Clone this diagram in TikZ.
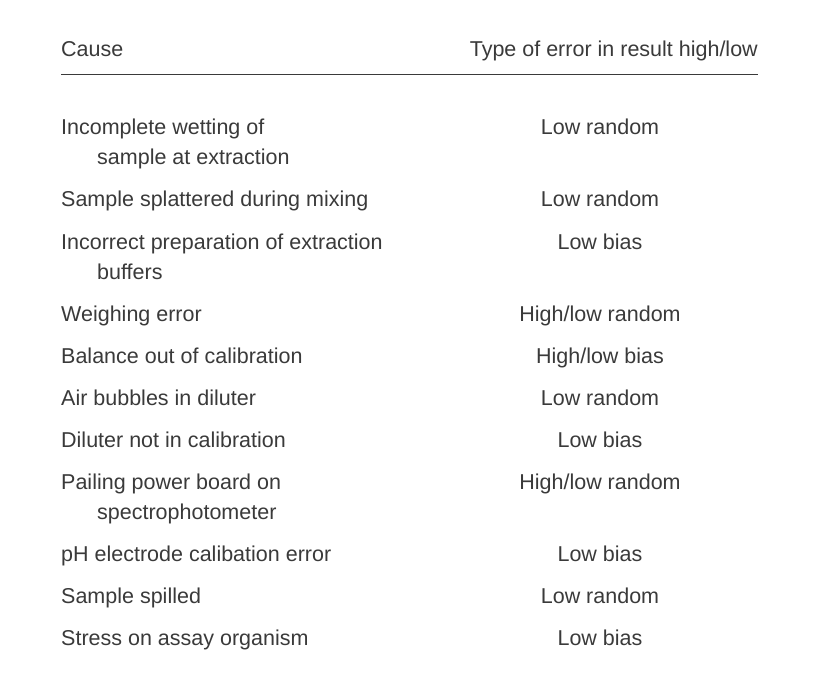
\documentclass[tikz,border=0pt]{standalone}
\usepackage{fontspec}
\setmainfont{Liberation Sans}
\usetikzlibrary{positioning}
\definecolor{ink}{HTML}{3A3A3A}
\begin{document}
\begin{tikzpicture}[x=1pt,y=-1pt]
\tikzset{C/.style={anchor=base west,inner sep=0pt,text=ink,font=\fontsize{21.5}{24}\selectfont}}
\tikzset{E/.style={anchor=base,inner sep=0pt,text=ink,font=\fontsize{21.5}{24}\selectfont}}
\useasboundingbox[fill=white] (0,0) rectangle (820,690);

  \node[C] (hc) at (61,57)  {Cause};
  \node[anchor=base east,inner sep=0pt,text=ink,font=\fontsize{21.5}{24}\selectfont] (he) at (758,57) {Type of error in result high/low};
  \coordinate (rl) at (61,74);
  \coordinate (rr) at (758,74);
  \draw[ink,line width=0.8pt] (rl) -- (rr);

  \node[C] (c1)  at (61,135) {Incomplete wetting of};
  \node[C] (c1b) at (97,165) {sample at extraction};
  \node[C] (c2)  at (61,207) {Sample splattered during mixing};
  \node[C] (c3)  at (61,249) {Incorrect preparation of extraction};
  \node[C] (c3b) at (97,279) {buffers};
  \node[C] (c4)  at (61,321) {Weighing error};
  \node[C] (c5)  at (61,363) {Balance out of calibration};
  \node[C] (c6)  at (61,405) {Air bubbles in diluter};
  \node[C] (c7)  at (61,447) {Diluter not in calibration};
  \node[C] (c8)  at (61,489) {Pailing power board on};
  \node[C] (c8b) at (97,519) {spectrophotometer};
  \node[C] (c9)  at (61,561) {pH electrode calibation error};
  \node[C] (c10) at (61,603) {Sample spilled};
  \node[C] (c11) at (61,645) {Stress on assay organism};

  \node[E] (e1)  at (600,135) {Low random};
  \node[E] (e2)  at (600,207) {Low random};
  \node[E] (e3)  at (600,249) {Low bias};
  \node[E] (e4)  at (600,321) {High/low random};
  \node[E] (e5)  at (600,363) {High/low bias};
  \node[E] (e6)  at (600,405) {Low random};
  \node[E] (e7)  at (600,447) {Low bias};
  \node[E] (e8)  at (600,489) {High/low random};
  \node[E] (e9)  at (600,561) {Low bias};
  \node[E] (e10) at (600,603) {Low random};
  \node[E] (e11) at (600,645) {Low bias};
\end{tikzpicture}
\end{document}
